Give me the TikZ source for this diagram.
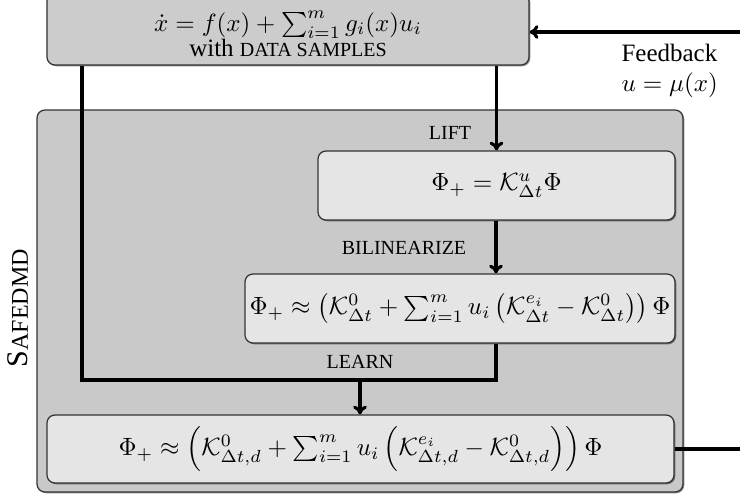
\documentclass[tikz,border=0pt]{standalone}
\usepackage[no-math]{fontspec}
\setmainfont{Liberation Serif}
\usepackage{amsmath}
\usetikzlibrary{shadows,arrows.meta}
\newcommand\mysc[1]{{\fontsize{8}{9.6}\selectfont #1}}
\definecolor{outerfill}{gray}{0.79}
\definecolor{topfill}{gray}{0.80}
\definecolor{innerfill}{gray}{0.90}
\definecolor{edge}{gray}{0.2}
\begin{document}
\begin{tikzpicture}[x=0.4pt,y=-0.4pt,
  boxbase/.style={draw=edge, line width=0.5pt, rounded corners=3.2pt, inner sep=0pt,
     drop shadow={shadow xshift=0.5pt, shadow yshift=-0.5pt, opacity=0.45, fill=black}},
  outerbox/.style={boxbase, fill=outerfill},
  topbox/.style={boxbase, fill=topfill},
  innerbox/.style={boxbase, fill=innerfill},
  conn/.style={line width=1.25pt},
  arr/.style={conn, -{To[length=3.5pt,width=5.5pt]}},
  lbl/.style={inner sep=0pt}
]
\useasboundingbox (0,0) rectangle (740,496);
% outer SafEDMD box
\node[outerbox, minimum width=258.4pt, minimum height=152.8pt] (outer) at (360,301) {};
\node[lbl, rotate=90] (safe) at (18,308) {{\fontsize{12}{14}\selectfont S\fontsize{9.6}{12}\selectfont AFEDMD}};
% top box (its upper edge lies beyond the picture)
\node[topbox, minimum width=192.8pt, minimum height=28.8pt] (top) at (288,29) {};
\node[lbl, anchor=base] (topeq) at (288,31) {$\dot{x} = f(x) + \sum_{i=1}^{m} g_i(x) u_i$};
\node[lbl, anchor=base] (toptext) at (288,56) {with \mysc{DATA SAMPLES}};
% inner boxes
\node[innerbox, minimum width=142.8pt, minimum height=27.6pt] (lift) at (496.5,185.5)
  {$\Phi_+ = \mathcal{K}^{u}_{\Delta t}\Phi$};
\node[innerbox, minimum width=172pt, minimum height=27.6pt] (bil) at (460,308.5)
  {$\Phi_+ \approx \bigl(\mathcal{K}^{0}_{\Delta t} + \sum_{i=1}^{m} u_i \,\bigl(\mathcal{K}^{e_i}_{\Delta t} - \mathcal{K}^{0}_{\Delta t}\bigr)\bigr)\,\Phi$};
\node[innerbox, minimum width=250.8pt, minimum height=27.2pt] (bot) at (360.5,449)
  {$\Phi_+ \approx \left(\mathcal{K}^{0}_{\Delta t,d} + \sum_{i=1}^{m} u_i \left(\mathcal{K}^{e_i}_{\Delta t,d} - \mathcal{K}^{0}_{\Delta t,d}\right)\right)\Phi$};
% labels
\node[lbl] (liftlbl) at (450,133) {\mysc{LIFT}};
\node[lbl] (billbl) at (404,248) {\mysc{BILINEARIZE}};
\node[lbl] (learnlbl) at (360,362) {\mysc{LEARN}};
\node[lbl, align=left, anchor=west] (fb) at (621,71) {Feedback\\$u=\mu(x)$};
% coordinates
\coordinate (lx) at (82,0);
\coordinate (lj) at (496,380);
\coordinate (mj) at (360,380);
\coordinate (fin) at (740,32);
\coordinate (fout) at (740,449);
% connectors
\draw[arr] (top.south -| lift.north) -- (lift.north);
\draw[arr] (lift.south -| lj) -- (bil.north -| lj);
\draw[conn] (top.south -| lx) |- (lj) -- (bil.south -| lj);
\draw[arr] (mj) -- (bot.north -| mj);
\draw[arr] (fin) -- (fin -| top.east);
\draw[conn] (bot.east) -- (fout);
\end{tikzpicture}
\end{document}
